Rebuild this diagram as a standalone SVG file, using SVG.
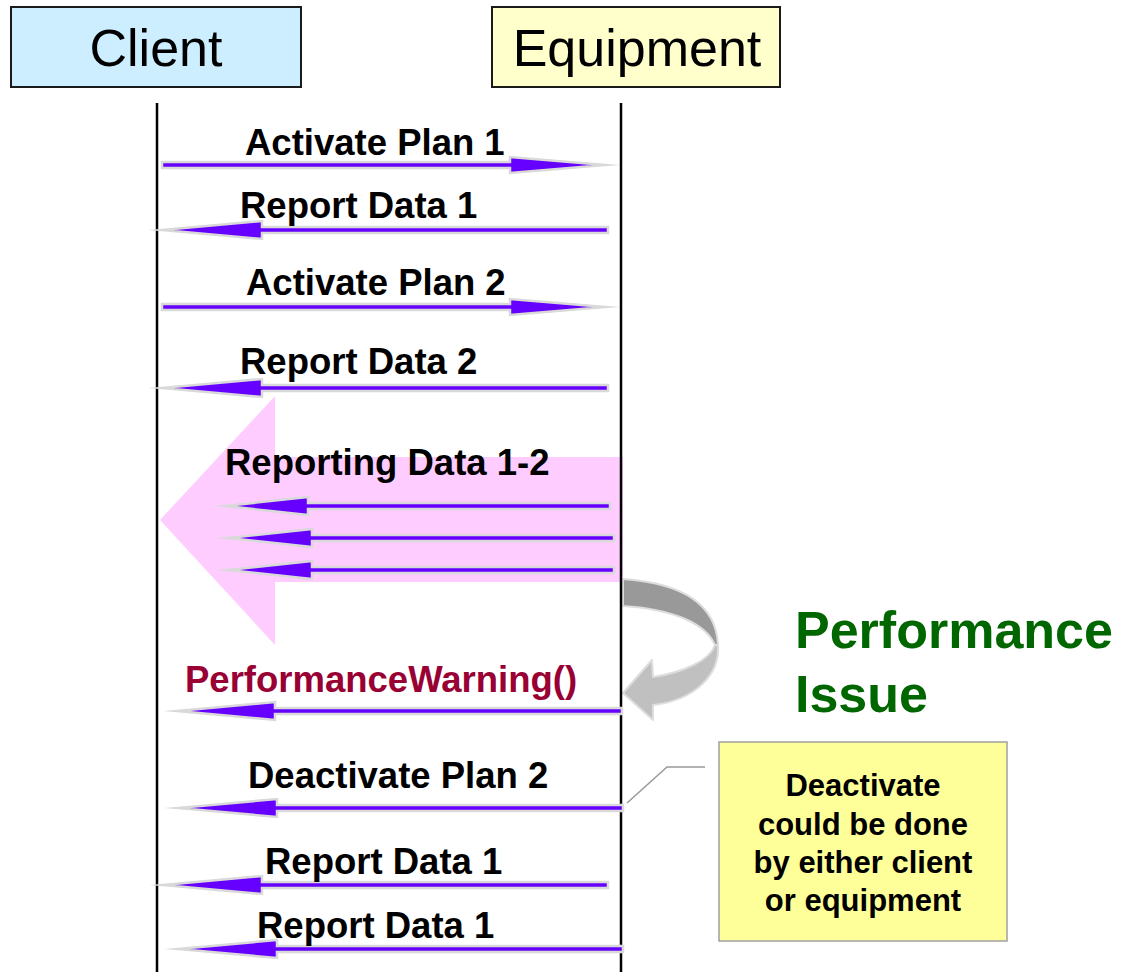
<svg xmlns="http://www.w3.org/2000/svg" width="1124" height="972" viewBox="0 0 1124 972">
<style>
.hdr{stroke:#1a1a1a;stroke-width:2}
.htxt{font-family:"Liberation Sans",Arial,sans-serif;font-size:52px;fill:#000}
.life{stroke:#000;stroke-width:2.5;fill:none}
.msg{fill:#6600FF;stroke:#D9D9D9;stroke-width:2.5;stroke-linejoin:miter;stroke-miterlimit:40}
.lbl{font-family:"Liberation Sans",Arial,sans-serif;font-size:36.5px;font-weight:bold;fill:#000}
.note{font-family:"Liberation Sans",Arial,sans-serif;font-size:31px;font-weight:bold;fill:#000;text-anchor:middle}
</style>
<rect width="1124" height="972" fill="#fff"/>

<g id="big-arrow">
<polygon points="623,457 275,457 275,396 160,520 275,645 275,582 623,582" fill="#FFCCFF"/>
</g>

<g id="client">
<rect x="11" y="7" width="290" height="80" fill="#CCEEFF" class="hdr"/>
<text x="156" y="66" class="htxt" text-anchor="middle">Client</text>
</g>
<g id="equipment">
<rect x="492" y="7" width="288" height="80" fill="#FFFFCC" class="hdr"/>
<text x="637" y="66" class="htxt" text-anchor="middle">Equipment</text>
</g>

<g id="curved-arrow" stroke="#DDDDDD" stroke-width="2" stroke-linejoin="round">
<path d="M623,579 C680,583 716,603 718,645 L715,645 C705,622 670,609 623,606 Z" fill="#999999"/>
<path d="M718,645 C720,675 695,700 653,705 L653,720 L623,693 L652,660 L653,677 C685,672 710,660 715,645 Z" fill="#C0C0C0"/>
</g>

<g id="lifelines">
<line x1="157" y1="103" x2="157" y2="972" class="life"/>
<line x1="621" y1="103" x2="621" y2="972" class="life"/>
</g>

<g id="connectors">
<polygon class="msg" points="162,162 510,162 510,157 605,165 510,173 510,168 162,168"/>
<polygon class="msg" points="608,227 262,227 262,221 162,230 262,239 262,233 608,233"/>
<polygon class="msg" points="162,304 510,304 510,299 605,307 510,315 510,310 162,310"/>
<polygon class="msg" points="608,385 262,385 262,379 162,388 262,397 262,391 608,391"/>
<polygon class="msg" points="610,503 308,503 308,497 225,506 308,515 308,509 610,509"/>
<polygon class="msg" points="614,535 312,535 312,529 228,538 312,547 312,541 614,541"/>
<polygon class="msg" points="614,567 312,567 312,561 228,570 312,579 312,573 614,573"/>
<polygon class="msg" points="622,708 275,708 275,702 177,711 275,720 275,714 622,714"/>
<polygon class="msg" points="623,805 277,805 277,799 178,808 277,817 277,811 623,811"/>
<polygon class="msg" points="608,882 262,882 262,876 163,885 262,894 262,888 608,888"/>
<polygon class="msg" points="623,946 277,946 277,940 178,949 277,958 277,952 623,952"/>
<polyline points="627,803 667,767 705,767" fill="none" stroke="#999999" stroke-width="1.5"/>
</g>

<g id="labels">
<text x="245" y="155" class="lbl">Activate Plan 1</text>
<text x="240" y="218" class="lbl">Report Data 1</text>
<text x="246" y="295" class="lbl">Activate Plan 2</text>
<text x="240" y="374" class="lbl">Report Data 2</text>
<text x="225" y="475" class="lbl">Reporting Data 1-2</text>
<text x="185" y="692" class="lbl" style="fill:#990033">PerformanceWarning()</text>
<text x="248" y="788" class="lbl">Deactivate Plan 2</text>
<text x="265" y="874" class="lbl">Report Data 1</text>
<text x="257" y="938" class="lbl">Report Data 1</text>
</g>

<g id="performance-issue" font-family="'Liberation Sans',Arial,sans-serif" font-size="52" font-weight="bold" fill="#006600">
<text x="795" y="648">Performance</text>
<text x="795" y="712">Issue</text>
</g>

<g id="note">
<rect x="719" y="742" width="288" height="199" fill="#FFFF99" stroke="#A0A0A0" stroke-width="1.5"/>
<text x="863" y="796" class="note">Deactivate</text>
<text x="863" y="835" class="note">could be done</text>
<text x="863" y="873" class="note">by either client</text>
<text x="863" y="911" class="note">or equipment</text>
</g>
</svg>
